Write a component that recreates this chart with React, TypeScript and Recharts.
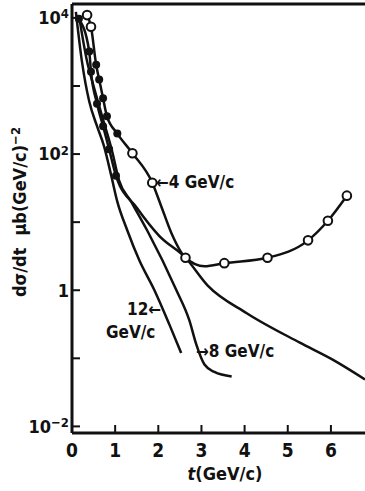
import { LineChart, Line, XAxis, YAxis, ReferenceLine } from "recharts";

// t in GeV/c, dσ/dt in μb (GeV/c)^-2
const t12 = [0.09, 0.23, 0.4, 0.58, 0.74, 0.91, 1.05, 1.28, 1.56, 1.91, 2.26, 2.53];
const v12 = [12300, 2300, 590, 257, 132, 48, 20, 7.6, 2.75, 1.0, 0.31, 0.12];

const t8 = [0.16, 0.35, 0.47, 0.7, 0.93, 1.09, 1.37, 1.74, 2.42, 2.72, 2.88, 3.07, 3.3, 3.7];
const v8 = [11000, 2290, 1170, 355, 110, 41, 20, 7.6, 1.0, 0.36, 0.16, 0.081, 0.063, 0.054];

const tLong = [0.16, 0.4, 0.44, 0.58, 0.72, 0.86, 1.02, 1.51, 2.02, 2.63, 3.14, 4.05, 5.28, 6.05, 6.79];
const vLong = [9700, 3200, 1620, 550, 257, 118, 48, 16, 6.3, 3.0, 1.18, 0.46, 0.17, 0.095, 0.049];
const mLong = ["f", "f", "f", "f", "f", "f", "f", "", "", "", "", "", "", "", ""];

const t4 = [0.35, 0.44, 0.56, 0.63, 0.72, 0.81, 1.05, 1.4, 1.86, 2.07, 2.3, 2.63, 3.07, 3.53, 4.53, 5.47, 5.93, 6.37];
const v4 = [11000, 7400, 2050, 1240, 660, 360, 200, 103, 38, 17, 7.0, 3.0, 2.25, 2.5, 3.0, 5.4, 10.5, 24.5];
const m4 = ["o", "o", "f", "f", "f", "f", "f", "o", "o", "", "", "o", "", "o", "o", "o", "o", "o"];

const xTicks = [0, 1, 2, 3, 4, 5, 6];
const yTicks = [0.01, 0.1, 1, 10, 100, 1000, 10000];
const yTickBase = ["10", "", "1", "", "10", "", "10"];
const yTickExp = ["-2", "", "", "", "2", "", "4"];

const ink = "#111";
const font = "'DejaVu Sans Condensed', 'DejaVu Sans', sans-serif";

const rows = (ts: number[], vs: number[], ms?: string[]) =>
  ts.map((t, i) => ({ t, v: vs[i], m: ms ? ms[i] : "" }));

function Marker(p: any) {
  const { cx, cy, payload, index } = p;
  if (payload.m === "o")
    return <circle key={index} cx={cx} cy={cy} r={4.3} fill="#fff" stroke={ink} strokeWidth={2} />;
  if (payload.m === "f") return <circle key={index} cx={cx} cy={cy} r={4} fill={ink} />;
  return <g key={index} />;
}

function YTick(p: any) {
  const { x, y, payload } = p;
  const i = yTicks.findIndex((v) => Math.abs(Math.log10(v) - Math.log10(payload.value)) < 0.01);
  return (
    <g>
      <line x1={x} x2={x + 8} y1={y} y2={y} stroke={ink} strokeWidth={2} />
      {i >= 0 && yTickBase[i] && (
        <text x={x - 3} y={y} dy="0.35em" textAnchor="end" fontFamily={font} fontWeight="bold" fontSize={18} fill={ink}>
          {yTickBase[i]}
          {yTickExp[i] && (
            <tspan dy="-0.45em" fontSize={13}>
              {yTickExp[i].replace("-", "−")}
            </tspan>
          )}
        </text>
      )}
    </g>
  );
}

function XTick(p: any) {
  const { x, y, payload } = p;
  return (
    <g>
      {payload.value > 0 && <line x1={x} x2={x} y1={y} y2={y - 8} stroke={ink} strokeWidth={2} />}
      <text x={x} y={y + 24} textAnchor="middle" fontFamily={font} fontWeight="bold" fontSize={19} fill={ink}>
        {payload.value}
      </text>
    </g>
  );
}

export default function App() {
  const lineProps = { type: "monotone" as const, dataKey: "v", stroke: ink, strokeWidth: 2.5, isAnimationActive: false };
  return (
    <div style={{ position: "absolute", left: 0, top: 0, width: 365, height: 491, background: "#fff" }}>
      <LineChart width={365} height={491} margin={{ top: 4, right: 0, bottom: 0, left: 0 }}>
        <XAxis
          dataKey="t"
          type="number"
          domain={[0, 6.79]}
          ticks={xTicks}
          allowDataOverflow
          height={58}
          tickSize={0}
          tickMargin={0}
          tick={<XTick />}
          axisLine={{ stroke: ink, strokeWidth: 3 }}
          tickLine={false}
        />
        <YAxis
          type="number"
          scale="log"
          domain={[0.008, 16000]}
          ticks={yTicks}
          allowDataOverflow
          width={72}
          tickSize={0}
          tickMargin={0}
          tick={<YTick />}
          axisLine={{ stroke: ink, strokeWidth: 3 }}
          tickLine={false}
        />
        <ReferenceLine y={16000} stroke={ink} strokeWidth={3} />
        <Line {...lineProps} data={rows(t12, v12)} dot={false} />
        <Line {...lineProps} data={rows(t8, v8)} dot={false} />
        <Line {...lineProps} data={rows(tLong, vLong, mLong)} dot={Marker} />
        <Line {...lineProps} data={rows(t4, v4, m4)} dot={Marker} />
      </LineChart>
      <svg width={365} height={491} style={{ position: "absolute", left: 0, top: 0, pointerEvents: "none" }}>
        <g fontFamily={font} fontWeight="bold" fill={ink}>
          <text x={156} y={188} fontSize={17}>←4 GeV/c</text>
          <text x={127} y={315} fontSize={17}>12←</text>
          <text x={106} y={338} fontSize={17}>GeV/c</text>
          <text x={196} y={357} fontSize={17}>→8 GeV/c</text>
          <text x={225} y={480} fontSize={18} textAnchor="middle">
            <tspan fontStyle="italic">t</tspan>(GeV/c)
          </text>
          <text transform="translate(26,212) rotate(-90)" fontSize={18} textAnchor="middle">
            dσ/dt
            <tspan dx={12}>μb(GeV/c)</tspan>
            <tspan dy="-0.45em" fontSize={13}>−2</tspan>
          </text>
        </g>
      </svg>
    </div>
  );
}
